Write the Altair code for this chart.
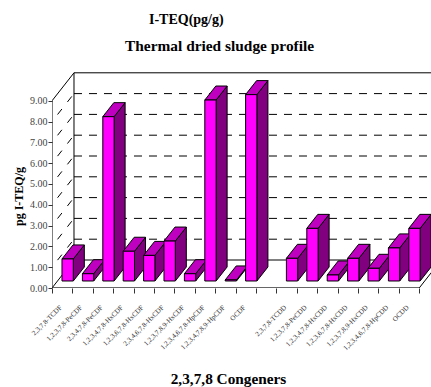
import json
import altair as alt
import pandas as pd

# Congeners, one band each; the empty band separates the furans from the dioxins.
CONGENERS = [
    "2,3,7,8-TCDF", "1,2,3,7,8-PeCDF", "2,3,4,7,8-PeCDF", "1,2,3,4,7,8-HxCDF",
    "1,2,3,6,7,8-HxCDF", "2,3,4,6,7,8-HxCDF", "1,2,3,7,8,9-HxCDF",
    "1,2,3,4,6,7,8-HpCDF", "1,2,3,4,7,8,9-HpCDF", "OCDF", "",
    "2,3,7,8-TCDD", "1,2,3,7,8-PeCDD", "1,2,3,4,7,8-HxCDD", "1,2,3,6,7,8-HxCDD",
    "1,2,3,7,8,9-HxCDD", "1,2,3,4,6,7,8-HpCDD", "OCDD",
]
VALUES = [1.06, 0.35, 7.9, 1.43, 1.23, 1.92, 0.35, 8.7, 0.05, 8.96, None,
          1.09, 2.53, 0.29, 1.09, 0.61, 1.59, 2.53]
Y_TICKS = list(range(10))

# Oblique projection, in axis units: how far the back wall and a bar's depth shift.
WALL_DX, WALL_DY = 1.078, 1.346
BAR_DX, BAR_DY = 0.54, 0.673
BAR_LEFT, BAR_WIDTH, BAR_BASE = 0.49, 0.554, 0.337
X_END, Y_END = 18, 9
X_MAX, Y_MAX = 18.578, 13.846

FRONT, TOP, SIDE = "#ff00ff", "#c000c0", "#800080"
SERIF = "Liberation Serif"

# Faces of every bar as closed polygons, painted left to right.
rows = []
seq = 0


def add_face(name, fill, points):
    global seq
    for px, py in points + points[:1]:
        rows.append({"face": name, "fill": fill, "x": px, "y": py, "seq": seq})
        seq += 1


for i, v in enumerate(VALUES):
    if v is None:
        continue
    l, r = i + BAR_LEFT, i + BAR_LEFT + BAR_WIDTH
    b, t = BAR_BASE, BAR_BASE + v
    add_face(f"{i:02d}a", SIDE, [(r, b), (r + BAR_DX, b + BAR_DY), (r + BAR_DX, t + BAR_DY), (r, t)])
    add_face(f"{i:02d}b", TOP, [(l, t), (r, t), (r + BAR_DX, t + BAR_DY), (l + BAR_DX, t + BAR_DY)])
    add_face(f"{i:02d}c", FRONT, [(l, b), (r, b), (r, t), (l, t)])
faces = pd.DataFrame(rows)


def segments(pairs):
    out = []
    for k, (x0, y0, x1, y1) in enumerate(pairs):
        out.append({"id": k, "n": 0, "x": x0, "y": y0})
        out.append({"id": k, "n": 1, "x": x1, "y": y1})
    return pd.DataFrame(out)


x_scale = alt.Scale(domain=[0, X_MAX], nice=False, zero=False)
y_scale = alt.Scale(domain=[0, Y_MAX], nice=False, zero=False)

# Every layer shares these axes; the x labels sit mid-band, hence the offset.
x_axis = alt.Axis(
    values=list(range(X_END + 1)), domain=False, grid=False,
    tickSize=5, tickColor="#333333",
    labelExpr=f"({json.dumps(CONGENERS + [''])})[datum.value]",
    labelAngle=315, labelAlign="right", labelBaseline="middle",
    labelOffset=8.5, labelPadding=13, labelFont=SERIF, labelFontSize=7,
    labelColor="#333333", labelOverlap=False, labelFlush=False,
    title="2,3,7,8 Congeners", titleFont=SERIF, titleFontSize=15.3,
    titleFontWeight="bold", titleColor="black", titleX=176, titleY=90,
    titleAlign="center", titleBaseline="middle",
)
y_axis = alt.Axis(
    values=Y_TICKS, format=".2f", domain=False, grid=False,
    tickSize=4, tickColor="#333333", labelFont=SERIF, labelFontSize=10,
    labelColor="#444444", labelPadding=1, labelOverlap=False, labelFlush=False,
    title="pg I-TEQ/g", titleFont=SERIF, titleFontSize=12,
    titleFontWeight="bold", titleColor="black", titleX=-34, titleY=196,
    titleAlign="center", titleBaseline="middle",
)
X = alt.X("x:Q", scale=x_scale, axis=x_axis)
Y = alt.Y("y:Q", scale=y_scale, axis=y_axis)


def lines(pairs, **style):
    return alt.Chart(segments(pairs)).mark_line(clip=True, **style).encode(
        x=X, y=Y, detail="id:N", order="n:Q",
    )


back_grid = lines([(WALL_DX, v + WALL_DY, X_MAX, v + WALL_DY) for v in range(1, Y_END)],
                  color="black", strokeWidth=1, strokeDash=[8, 7])
wall_grid = lines([(0, v, WALL_DX, v + WALL_DY) for v in range(1, Y_END)],
                  color="black", strokeWidth=1, strokeDash=[7, 9], strokeDashOffset=7)
frame = lines([
    (0, 0, 0, Y_END),
    (WALL_DX, WALL_DY, WALL_DX, Y_END + WALL_DY),
    (0, Y_END, WALL_DX, Y_END + WALL_DY),
    (0, 0, WALL_DX, WALL_DY),
    (WALL_DX, Y_END + WALL_DY, X_MAX, Y_END + WALL_DY),
    (WALL_DX, WALL_DY, X_MAX, WALL_DY),
    (X_END, 0, X_END + WALL_DX, WALL_DY),
], color="black", strokeWidth=1)
floor_front = lines([(0, 0, X_END, 0)], color="#333333", strokeWidth=1.6)

bars = alt.Chart(faces).mark_line(stroke="black", strokeWidth=1, strokeJoin="miter").encode(
    x=X, y=Y, detail="face:N", fill=alt.Fill("fill:N", scale=None), order="seq:Q",
)


def heading(text, x, y, size):
    return alt.Chart(pd.DataFrame({"t": [text]})).mark_text(
        font=SERIF, fontSize=size, fontWeight="bold", color="black", align="left", baseline="middle",
    ).encode(text="t:N", x=alt.value(x), y=alt.value(y))


chart = alt.layer(
    back_grid, wall_grid, frame, floor_front, bars,
    heading("I-TEQ(pg/g)", 97, 20, 14),
    heading("Thermal dried sludge profile", 73, 46, 15.4),
).properties(
    width=379, height=288,
    autosize=alt.AutoSizeParams(type="none"),
    padding={"left": 52, "top": 0, "right": 0, "bottom": 99},
).configure_view(stroke=None)

chart.save("out.html", embed_options={"renderer": "svg", "actions": False})
